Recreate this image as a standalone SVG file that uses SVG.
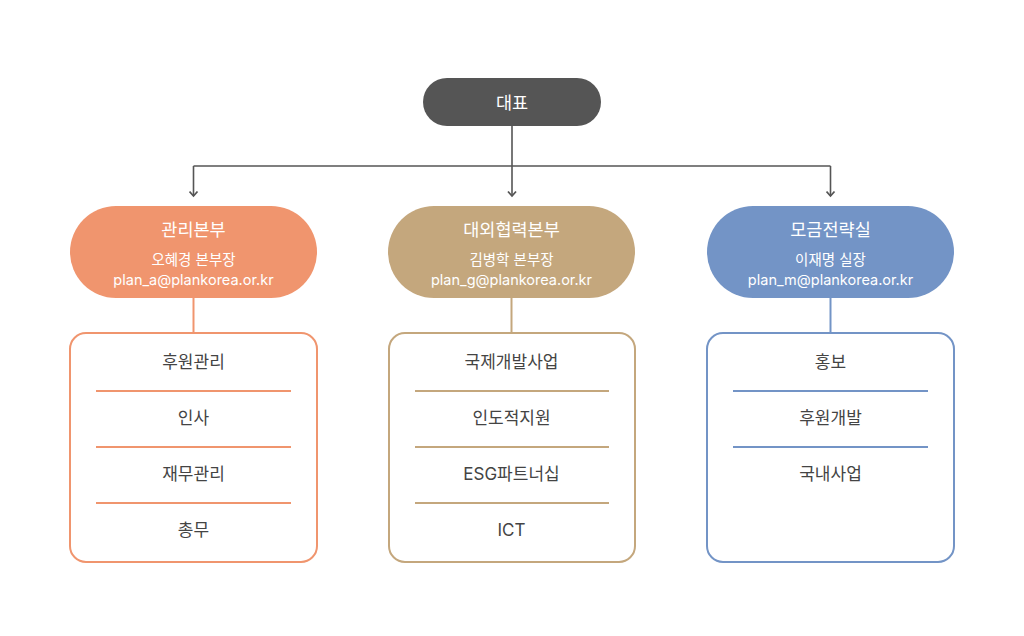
<svg xmlns="http://www.w3.org/2000/svg" width="1024" height="636" viewBox="0 0 1024 636">
<style>
text{font-family:"Inter","Noto Sans CJK KR",sans-serif;text-anchor:middle;dominant-baseline:central}
.w{fill:#ffffff}
.t1{font-size:17.5px}
.t2{font-size:14.5px}
.it{font-size:17px;fill:#444444}
.c{fill:none;stroke:#555555;stroke-width:1.6}
.box{fill:#ffffff;stroke-width:2}
</style>
<defs>
<marker id="chev" viewBox="0 0 10 10" refX="8" refY="5" markerWidth="10" markerHeight="10" markerUnits="userSpaceOnUse" orient="auto">
<path d="M3.5,1 L8,5 L3.5,9" fill="none" stroke="#555555" stroke-width="1.8"/>
</marker>
</defs>
<rect width="1024" height="636" fill="#ffffff"/>
<g id="connectors">
<path class="c" d="M512,126 V166"/>
<path class="c" d="M193.5,166 H830.5"/>
<path class="c" d="M193.5,166 V196" marker-end="url(#chev)"/>
<path class="c" d="M512,166 V196" marker-end="url(#chev)"/>
<path class="c" d="M830.5,166 V196" marker-end="url(#chev)"/>
<path d="M193.5,298 V333" stroke="#F0956E" stroke-width="2"/>
<path d="M511.5,298 V333" stroke="#C4A77D" stroke-width="2"/>
<path d="M830.5,298 V333" stroke="#7394C6" stroke-width="2"/>
</g>
<g id="ceo">
<rect x="423" y="78" width="178" height="48" rx="24" fill="#555555"/>
<text class="w t1" x="512" y="102">대표</text>
</g>
<g id="div-admin">
<rect x="70" y="206" width="247" height="92" rx="46" fill="#F0956E"/>
<text class="w t1" x="193.5" y="229">관리본부</text>
<text class="w t2" x="193.5" y="259">오혜경 본부장</text>
<text class="w t2" x="193.5" y="279">plan_a@plankorea.or.kr</text>
</g>
<g id="div-external">
<rect x="388" y="206" width="247" height="92" rx="46" fill="#C4A77D"/>
<text class="w t1" x="511.5" y="229">대외협력본부</text>
<text class="w t2" x="511.5" y="259">김병학 본부장</text>
<text class="w t2" x="511.5" y="279">plan_g@plankorea.or.kr</text>
</g>
<g id="div-fund">
<rect x="707" y="206" width="247" height="92" rx="46" fill="#7394C6"/>
<text class="w t1" x="830.5" y="229">모금전략실</text>
<text class="w t2" x="830.5" y="259">이재명 실장</text>
<text class="w t2" x="830.5" y="279">plan_m@plankorea.or.kr</text>
</g>
<g id="box-admin">
<rect class="box" x="70" y="333" width="247" height="229" rx="16" stroke="#F0956E"/>
<g stroke="#F0956E" stroke-width="2">
<line x1="96" y1="391" x2="291" y2="391"/>
<line x1="96" y1="447" x2="291" y2="447"/>
<line x1="96" y1="503" x2="291" y2="503"/>
</g>
<text class="it" x="193.5" y="362">후원관리</text>
<text class="it" x="193.5" y="418">인사</text>
<text class="it" x="193.5" y="474">재무관리</text>
<text class="it" x="193.5" y="530">총무</text>
</g>
<g id="box-external">
<rect class="box" x="389" y="333" width="246" height="229" rx="16" stroke="#C4A77D"/>
<g stroke="#C4A77D" stroke-width="2">
<line x1="415" y1="391" x2="609" y2="391"/>
<line x1="415" y1="447" x2="609" y2="447"/>
<line x1="415" y1="503" x2="609" y2="503"/>
</g>
<text class="it" x="511.5" y="362">국제개발사업</text>
<text class="it" x="511.5" y="418">인도적지원</text>
<text class="it" x="511.5" y="474">ESG파트너십</text>
<text class="it" x="511.5" y="530">ICT</text>
</g>
<g id="box-fund">
<rect class="box" x="707" y="333" width="247" height="229" rx="16" stroke="#7394C6"/>
<g stroke="#7394C6" stroke-width="2">
<line x1="733" y1="391" x2="928" y2="391"/>
<line x1="733" y1="447" x2="928" y2="447"/>
</g>
<text class="it" x="830.5" y="362">홍보</text>
<text class="it" x="830.5" y="418">후원개발</text>
<text class="it" x="830.5" y="474">국내사업</text>
</g>
</svg>
